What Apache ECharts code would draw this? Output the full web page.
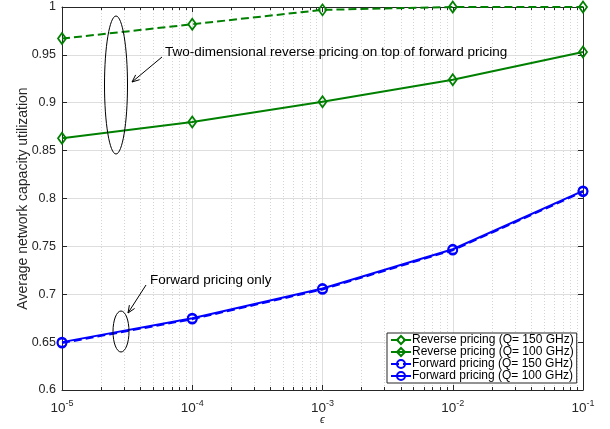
<!DOCTYPE html>
<html><head><meta charset="utf-8">
<script src="https://cdn.jsdelivr.net/npm/echarts@6/dist/echarts.min.js"></script>
<style>html,body{margin:0;padding:0;background:#fff;overflow:hidden}#c{width:610px;height:429px}</style>
</head><body><div id="c"></div>
<script>
const epsilons = [1e-5, 1e-4, 1e-3, 1e-2, 1e-1];
const reverse150 = [0.967, 0.982, 0.997, 1.0, 1.0];
const reverse100 = [0.863, 0.880, 0.901, 0.924, 0.953];
const forward150 = [0.649, 0.674, 0.705, 0.746, 0.807];
const forward100 = [0.650, 0.675, 0.706, 0.747, 0.808];
const seriesNames = ['Reverse pricing (Q= 150 GHz)', 'Reverse pricing (Q= 100 GHz)', 'Forward pricing (Q= 150 GHz)', 'Forward pricing (Q= 100 GHz)'];
const yLabel = 'Average network capacity utilization';
const xLabel = '\u03F5';
const note1 = 'Two-dimensional reverse pricing on top of forward pricing';
const note2 = 'Forward pricing only';

const FONT = '"Liberation Sans", Arial, Helvetica, sans-serif';
const AX = '#262626';
const GREEN = '#008000', BLUE = '#0000ff';

function pairs(vals){ return epsilons.map((e,i)=>[e, vals[i]]); }

function mk(name, vals, color, dashed, symbol, size){
  return {
    name, type:'line', data: pairs(vals), symbol, symbolSize: size,
    showAllSymbol: true, clip:false,
    lineStyle:{color, width:2, type: dashed ? [8,4] : 'solid'},
    itemStyle:{color:'rgba(255,255,255,0)', borderColor: color, borderWidth:1.8},
    emphasis:{disabled:true}, z: 3
  };
}

const chart = echarts.init(document.getElementById('c'), null, {renderer:'canvas'});

function arrow(x1,y1,x2,y2){
  const dx=x2-x1, dy=y2-y1, L=Math.hypot(dx,dy), ux=dx/L, uy=dy/L;
  const h=8, a=0.4;
  const p1=[x2 - h*(ux*Math.cos(a) - uy*Math.sin(a)), y2 - h*(uy*Math.cos(a) + ux*Math.sin(a))];
  const p2=[x2 - h*(ux*Math.cos(-a) - uy*Math.sin(-a)), y2 - h*(uy*Math.cos(-a) + ux*Math.sin(-a))];
  return [
    {type:'line', shape:{x1,y1,x2,y2}, style:{stroke:'#000', lineWidth:1}, z:10},
    {type:'polyline', shape:{points:[p1,[x2,y2],p2]}, style:{stroke:'#000', fill:null, lineWidth:1}, z:10}
  ];
}

const xAxisBase = {
  type:'log', logBase:10, min:1e-5, max:1e-1,
  axisLine:{show:true, onZero:false, lineStyle:{color:AX, width:1}},
  axisTick:{show:true, inside:true, length:5, lineStyle:{color:AX}},
  minorTick:{show:true, splitNumber:9, length:3, lineStyle:{color:AX}},
};
const yAxisBase = {
  type:'value', min:0.6, max:1, interval:0.05,
  axisLine:{show:true, onZero:false, lineStyle:{color:AX, width:1}},
  axisTick:{show:true, inside:true, length:5, lineStyle:{color:AX}},
};

const option = {
  animation:false,
  backgroundColor:'#fff',
  textStyle:{fontFamily:FONT},
  grid:{left:62, right:27, top:7, bottom:39, containLabel:false, outerBoundsMode:'none'},
  xAxis:[
    Object.assign({}, xAxisBase, {
      position:'bottom',
      name:xLabel, nameLocation:'middle', nameGap:24, nameMoveOverlap:false,
      nameTextStyle:{fontSize:11, fontStyle:'italic', color:AX, fontFamily:FONT},
      axisLabel:{margin:9, color:AX,
        formatter: v => '{b|10}{s|' + Math.round(Math.log10(v)) + '}',
        rich:{ b:{fontSize:13.5, color:AX, fontFamily:FONT}, s:{fontSize:9, color:AX, fontFamily:FONT, padding:[0,0,9,0]} } },
      splitLine:{show:true, lineStyle:{color:'#dedede', width:1}},
      minorSplitLine:{show:true, lineStyle:{color:'#d4d4d4', width:1, type:[1,2]}}
    }),
    Object.assign({}, xAxisBase, {position:'top', axisLabel:{show:false}, splitLine:{show:false}, minorSplitLine:{show:false}})
  ],
  yAxis:[
    Object.assign({}, yAxisBase, {
      position:'left',
      name:yLabel, nameLocation:'middle', nameGap:32, nameRotate:90, nameMoveOverlap:false,
      nameTextStyle:{fontSize:14, color:AX, fontFamily:FONT},
      axisLabel:{margin:6, fontSize:12.5, color:AX, fontFamily:FONT},
      splitLine:{show:true, lineStyle:{color:'#dedede', width:1}}
    }),
    Object.assign({}, yAxisBase, {position:'right', axisLabel:{show:false}, splitLine:{show:false}})
  ],
  legend:{
    orient:'vertical', left:387, top:333, itemGap:0, itemWidth:20, itemHeight:10,
    padding:[1,3,1,3], backgroundColor:'#fff', borderColor:AX, borderWidth:1, borderRadius:0,
    textStyle:{fontSize:12, color:'#000', fontFamily:FONT, lineHeight:12, padding:[0,0,0,-4]},
    data: seriesNames
  },
  series:[
    mk(seriesNames[0], reverse150, GREEN, true, 'diamond', [8,11]),
    mk(seriesNames[1], reverse100, GREEN, false, 'diamond', [8,11]),
    mk(seriesNames[2], forward150, BLUE, true, 'circle', 9),
    mk(seriesNames[3], forward100, BLUE, false, 'circle', 9)
  ],
  graphic:[
    {type:'ellipse', shape:{cx:116, cy:85, rx:11.5, ry:69}, style:{fill:null, stroke:'#000', lineWidth:1}, z:10},
    {type:'ellipse', shape:{cx:121, cy:331.5, rx:8, ry:20.5}, style:{fill:null, stroke:'#000', lineWidth:1}, z:10},
    ...arrow(162,57,132,82),
    ...arrow(146,285,128,313),
    {type:'text', x:165, y:52, style:{text:note1, font:'13.5px ' + FONT, fill:'#000', textVerticalAlign:'middle', verticalAlign:'middle'}, z:10},
    {type:'text', x:150, y:280, style:{text:note2, font:'13.5px ' + FONT, fill:'#000', textVerticalAlign:'middle', verticalAlign:'middle'}, z:10}
  ]
};
chart.setOption(option);
</script></body></html>
